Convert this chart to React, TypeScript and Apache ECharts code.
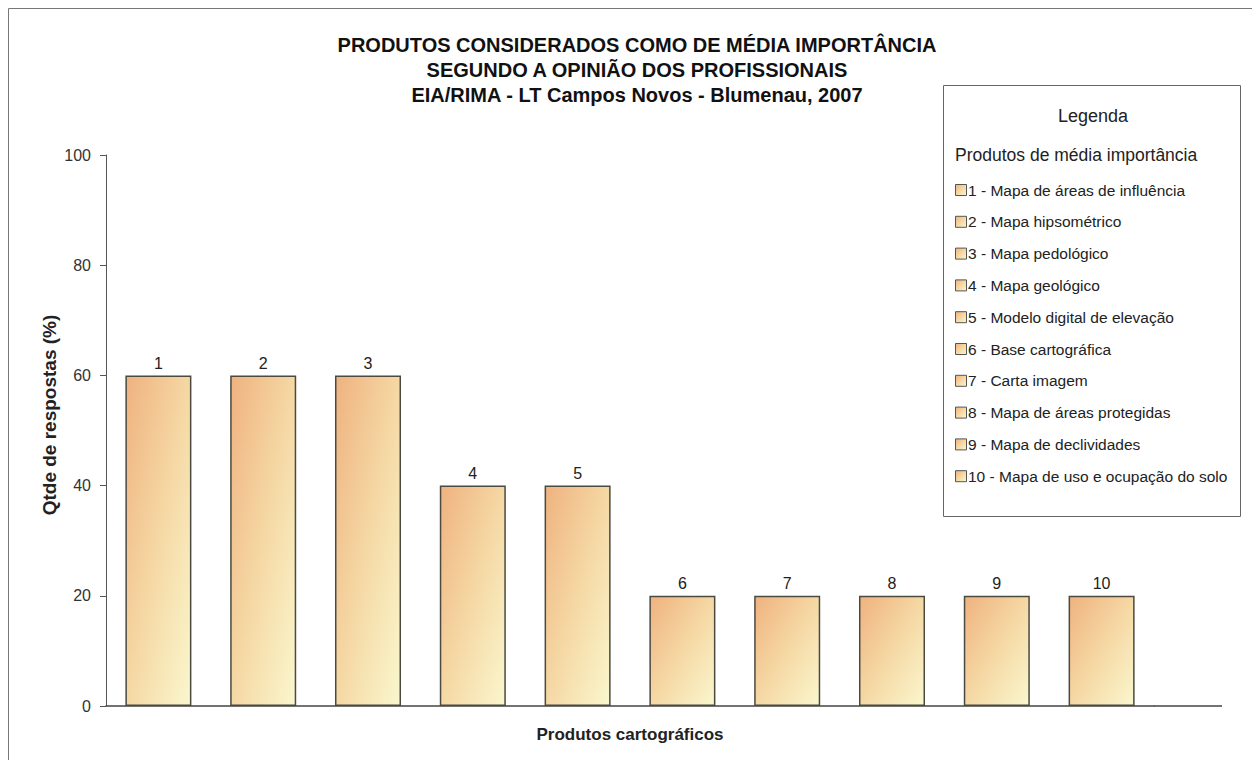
import React, { useEffect, useRef } from "react";
import * as echarts from "echarts";

const categories = ["1", "2", "3", "4", "5", "6", "7", "8", "9", "10"];
const values = [60, 60, 60, 40, 40, 20, 20, 20, 20, 20];
const productNames = [
  "Mapa de áreas de influência",
  "Mapa hipsométrico",
  "Mapa pedológico",
  "Mapa geológico",
  "Modelo digital de elevação",
  "Base cartográfica",
  "Carta imagem",
  "Mapa de áreas protegidas",
  "Mapa de declividades",
  "Mapa de uso e ocupação do solo",
];
const yTicks = [0, 20, 40, 60, 80, 100];
const titleLines = [
  "PRODUTOS CONSIDERADOS COMO DE MÉDIA IMPORTÂNCIA",
  "SEGUNDO A OPINIÃO DOS PROFISSIONAIS",
  "EIA/RIMA - LT Campos Novos - Blumenau, 2007",
];
const yAxisName = "Qtde de respostas (%)";
const xAxisName = "Produtos cartográficos";
const legendTitle = "Legenda";
const legendSubtitle = "Produtos de média importância";

const FONT = "'Liberation Sans', Arial, Helvetica, sans-serif";

const barGradient = () =>
  new echarts.graphic.LinearGradient(0, 0, 1, 1, [
    { offset: 0, color: "#EFB27F" },
    { offset: 0.5, color: "#F5D8A4" },
    { offset: 1, color: "#FAF7CE" },
  ]);

export default function App() {
  const ref = useRef<HTMLDivElement>(null);
  useEffect(() => {
    if (!ref.current) return;
    const chart = echarts.init(ref.current, undefined, { renderer: "svg" });

    const legendItems: any[] = [];
    productNames.forEach((name, i) => {
      const cy = 182 + i * 31.8;
      legendItems.push({
        type: "rect",
        z: 11,
        shape: { x: 947.5, y: cy - 5.5, width: 11, height: 11 },
        style: { fill: barGradient(), stroke: "#555", lineWidth: 1 },
      });
      legendItems.push({
        type: "text",
        z: 11,
        x: 960,
        y: cy,
        style: {
          text: `${categories[i]} - ${name}`,
          fill: "#222",
          font: `15.5px ${FONT}`,
          textVerticalAlign: "middle",
          verticalAlign: "middle",
        },
      });
    });

    const option: any = {
      animation: false,
      backgroundColor: "#fff",
      title: {
        text: titleLines.join("\n"),
        left: 624,
        top: 19,
        textAlign: "center",
        textStyle: {
          fontFamily: FONT,
          fontSize: 20,
          fontWeight: "bold",
          color: "#111",
          lineHeight: 25,
        },
      },
      grid: { left: 98, top: 147, width: 1048, height: 551 },
      xAxis: {
        type: "category",
        data: categories,
        name: xAxisName,
        nameLocation: "middle",
        nameGap: 20,
        nameTextStyle: {
          fontFamily: FONT,
          fontSize: 17,
          fontWeight: "bold",
          color: "#222",
        },
        axisLine: { lineStyle: { color: "#444", width: 1.5 } },
        axisTick: { show: false },
        axisLabel: { show: false },
        splitLine: { show: false },
      },
      yAxis: {
        type: "value",
        min: 0,
        max: 100,
        interval: 20,
        axisLine: { show: true, lineStyle: { color: "#555", width: 1 } },
        axisTick: { show: true, inside: false, length: 6, lineStyle: { color: "#555" } },
        axisLabel: {
          margin: 15,
          fontFamily: FONT,
          fontSize: 16,
          color: "#333",
          formatter: (v: number) => (yTicks.includes(v) ? String(v) : ""),
        },
        splitLine: { show: false },
      },
      series: [
        {
          type: "bar",
          data: values,
          barWidth: "63%",
          itemStyle: {
            color: barGradient(),
            borderColor: "#4a4a40",
            borderWidth: 1.5,
          },
          label: {
            show: true,
            position: "top",
            distance: 4,
            formatter: (p: any) => categories[p.dataIndex],
            fontFamily: FONT,
            fontSize: 16,
            color: "#222",
          },
        },
      ],
      graphic: [
        {
          type: "rect",
          silent: true,
          shape: { x: 0.5, y: 0.5, width: 1250, height: 800 },
          style: { fill: "none", stroke: "#777", lineWidth: 1 },
        },
        {
          type: "line",
          silent: true,
          shape: { x1: 1146, y1: 698, x2: 1214, y2: 698 },
          style: { stroke: "#444", lineWidth: 1.5 },
        },
        {
          type: "text",
          x: 41,
          y: 407,
          rotation: Math.PI / 2,
          style: {
            text: yAxisName,
            font: `bold 19px ${FONT}`,
            fill: "#222",
            textAlign: "center",
            textVerticalAlign: "middle",
            align: "center",
            verticalAlign: "middle",
          },
        },
        {
          type: "rect",
          shape: { x: 935.5, y: 77.5, width: 297, height: 431 },
          style: { fill: "#fff", stroke: "#666", lineWidth: 1 },
          z: 10,
        },
        {
          type: "text",
          x: 1085,
          y: 108,
          z: 11,
          style: {
            text: legendTitle,
            font: `18px ${FONT}`,
            fill: "#222",
            align: "center",
            verticalAlign: "middle",
            textAlign: "center",
            textVerticalAlign: "middle",
          },
        },
        {
          type: "text",
          x: 947,
          y: 147,
          z: 11,
          style: {
            text: legendSubtitle,
            font: `17.5px ${FONT}`,
            fill: "#222",
            verticalAlign: "middle",
            textVerticalAlign: "middle",
          },
        },
        ...legendItems,
      ],
    };
    chart.setOption(option);
    return () => chart.dispose();
  }, []);

  return <div ref={ref} style={{ width: 1252, height: 752 }} />;
}
